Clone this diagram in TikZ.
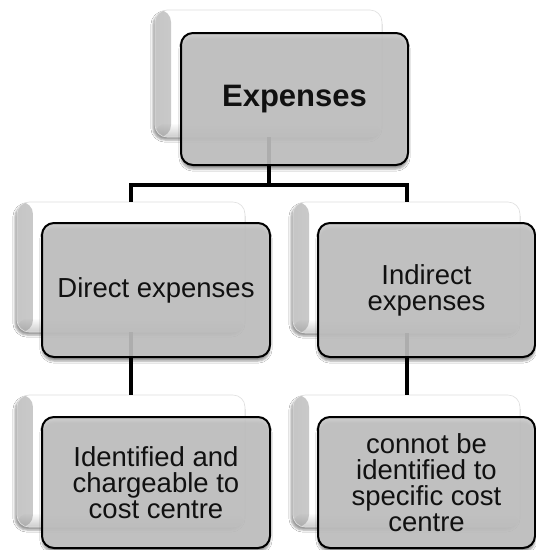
\documentclass[tikz,border=0pt]{standalone}
\usepackage{fontspec}
\setmainfont{Liberation Sans}
\usetikzlibrary{shadows.blur,fadings}
\definecolor{boxgray}{RGB}{198,198,198}
\definecolor{inkblack}{RGB}{17,17,17}
\begin{document}
\begin{tikzpicture}[x=1pt,y=-1pt,
  backbox/.style={rectangle, rounded corners=12pt, fill=white, draw=gray!25,
    line width=0.6pt, inner sep=0pt,
    blur shadow={shadow xshift=-2pt, shadow yshift=-3pt, shadow opacity=40},
    path picture={
      \fill[gray, opacity=0.45, path fading=east]
        (path picture bounding box.south west) rectangle
        ([xshift=16pt]path picture bounding box.north west);
      \fill[gray, opacity=0.40, path fading=north]
        (path picture bounding box.south west) rectangle
        ([yshift=14pt]path picture bounding box.south east);
    }},
  frontbox/.style={rectangle, rounded corners=12pt, draw=black, line width=2pt,
    fill=boxgray, fill opacity=0.88, text opacity=1, text=inkblack,
    align=center, inner sep=0pt, font=\fontsize{27.5}{26}\selectfont,
    blur shadow={shadow xshift=0pt, shadow yshift=-4pt, shadow opacity=45}},
  conn/.style={draw=black, line width=4pt}]
\useasboundingbox (0,0) rectangle (536,550);
\fill[white] (0,0) rectangle (536,550);

% rear white cards
\node[backbox, minimum width=227pt, minimum height=127pt] (tb)  at (268.5,73.5) {};
\node[backbox, minimum width=228pt, minimum height=130pt] (mlb) at (131,267) {};
\node[backbox, minimum width=227pt, minimum height=131pt] (mrb) at (406.5,267.5) {};
\node[backbox, minimum width=228pt, minimum height=132pt] (blb) at (131,461) {};
\node[backbox, minimum width=227pt, minimum height=132pt] (brb) at (406.5,461) {};

% tree connectors
\coordinate (bus) at (268.5,185);
\draw[conn] (tb.south) -- (bus);
\draw[conn] (mlb.north) |- (bus) -| (mrb.north);
\draw[conn] (mlb.south) -- (blb.north);
\draw[conn] (mrb.south) -- (brb.north);

% front gray cards with the labels
\node[frontbox, minimum width=227pt, minimum height=132pt,
      font=\bfseries\fontsize{31}{33}\selectfont] (tf) at (294.5,99) {Expenses};
\node[frontbox, minimum width=228pt, minimum height=134pt] (mlf) at (156,290) {Direct expenses};
\node[frontbox, minimum width=217pt, minimum height=134pt] (mrf) at (426.5,290) {Indirect\\expenses};
\node[frontbox, minimum width=228pt, minimum height=131pt] (blf) at (156,482.5) {Identified and\\chargeable to\\cost centre};
\node[frontbox, minimum width=217pt, minimum height=131pt] (brf) at (426.5,482.5) {connot be\\identified to\\specific cost\\centre};
\end{tikzpicture}
\end{document}
